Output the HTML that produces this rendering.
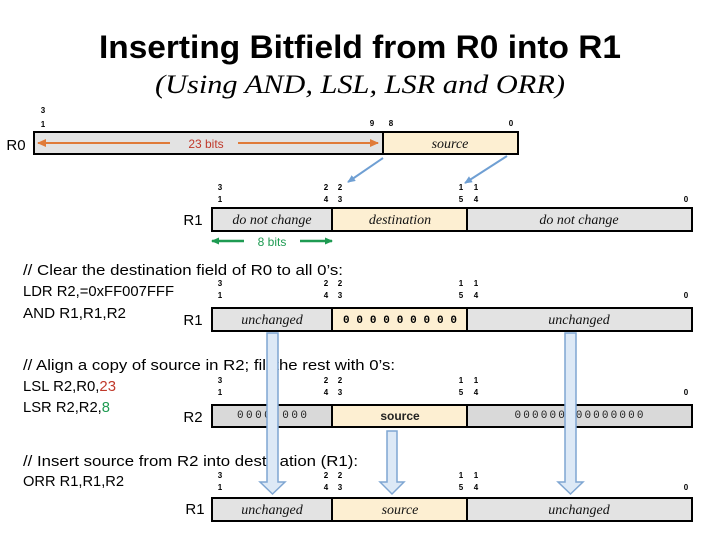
<!DOCTYPE html>
<html><head><meta charset="utf-8"><style>
html,body{margin:0;padding:0;background:#fff;width:720px;height:540px;overflow:hidden}
svg{display:block}
.b{font-family:"Liberation Sans",sans-serif;font-size:8px;font-weight:bold;fill:#000;text-anchor:middle}
.i{font-family:"Liberation Serif",serif;font-style:italic;font-size:14px;fill:#111;text-anchor:middle}
.c{font-family:"Liberation Sans",sans-serif;font-size:15px;fill:#000}
.r{font-family:"Liberation Sans",sans-serif;font-size:15px;fill:#000;text-anchor:middle}
.g{fill:#e3e3e3;stroke:#000;stroke-width:2}
.y{fill:#fdefd2;stroke:#000;stroke-width:2}
.g2{fill:#d9d9d9;stroke:#000;stroke-width:2}
.z{font-family:"Liberation Mono",monospace;font-size:11px;fill:#222;text-anchor:middle}
.ha{fill:#dde9f6;stroke:#7fa6d2;stroke-width:1.5}
</style></head><body>
<svg width="720" height="540" viewBox="0 0 720 540" xmlns="http://www.w3.org/2000/svg">
<defs>
<marker id="ob" markerUnits="userSpaceOnUse" markerWidth="9" markerHeight="8" refX="8" refY="4" orient="auto"><path d="M0,0 L9,4 L0,8 z" fill="#e07b39"/></marker>
<marker id="gb" markerUnits="userSpaceOnUse" markerWidth="8" markerHeight="7" refX="7" refY="3.5" orient="auto"><path d="M0,0 L8,3.5 L0,7 z" fill="#1e9b52"/></marker>
<marker id="bb" markerUnits="userSpaceOnUse" markerWidth="8" markerHeight="7" refX="7" refY="3.5" orient="auto"><path d="M0,0 L8,3.5 L0,7 z" fill="#6f9fd3"/></marker>
</defs>
<text x="360" y="58" text-anchor="middle" font-family="Liberation Sans,sans-serif" font-weight="bold" font-size="32" textLength="522" lengthAdjust="spacingAndGlyphs">Inserting Bitfield from R0 into R1</text>
<text x="360" y="93" text-anchor="middle" font-family="Liberation Serif,serif" font-style="italic" font-size="26" textLength="410" lengthAdjust="spacingAndGlyphs">(Using AND, LSL, LSR and ORR)</text>

<!-- R0 -->
<text class="b" x="43" y="113">3</text><text class="b" x="43" y="127">1</text>
<text class="b" x="372" y="126">9</text><text class="b" x="391" y="126">8</text><text class="b" x="511" y="126">0</text>
<text x="16" y="150" class="r">R0</text>
<rect class="g" x="34" y="132" width="349" height="22"/>
<rect class="y" x="383" y="132" width="135" height="22"/>
<line x1="170" y1="143" x2="38" y2="143" stroke="#e07b39" stroke-width="2" marker-end="url(#ob)"/>
<line x1="238" y1="143" x2="378" y2="143" stroke="#e07b39" stroke-width="2" marker-end="url(#ob)"/>
<text x="206" y="148" text-anchor="middle" font-family="Liberation Sans,sans-serif" font-size="12" fill="#c0392b">23 bits</text>
<text class="i" x="450" y="148">source</text>
<line x1="383" y1="158" x2="348" y2="182" stroke="#6f9fd3" stroke-width="2" marker-end="url(#bb)"/>
<line x1="507" y1="156" x2="465" y2="183" stroke="#6f9fd3" stroke-width="2" marker-end="url(#bb)"/>

<g>
<text class="b" x="220" y="190">3</text><text class="b" x="220" y="202">1</text>
<text class="b" x="326" y="190">2</text><text class="b" x="340" y="190">2</text>
<text class="b" x="326" y="202">4</text><text class="b" x="340" y="202">3</text>
<text class="b" x="461" y="190">1</text><text class="b" x="476" y="190">1</text>
<text class="b" x="461" y="202">5</text><text class="b" x="476" y="202">4</text>
<text class="b" x="686" y="202">0</text>
</g>
<text x="193" y="225" class="r">R1</text>
<rect class="g" x="212" y="208" width="120" height="23"/>
<rect class="y" x="332" y="208" width="135" height="23"/>
<rect class="g" x="467" y="208" width="225" height="23"/>
<text class="i" x="272" y="224">do not change</text>
<text class="i" x="400" y="224">destination</text>
<text class="i" x="579" y="224">do not change</text>
<line x1="244" y1="241" x2="212" y2="241" stroke="#1e9b52" stroke-width="2.5" marker-end="url(#gb)"/>
<line x1="300" y1="241" x2="332" y2="241" stroke="#1e9b52" stroke-width="2.5" marker-end="url(#gb)"/>
<text x="272" y="246" text-anchor="middle" font-family="Liberation Sans,sans-serif" font-size="12" fill="#1e9b52">8 bits</text>

<!-- section 1 -->
<text class="c" x="23" y="275" textLength="320" lengthAdjust="spacingAndGlyphs">// Clear the destination field of R0 to all 0’s:</text>
<text class="c" x="23" y="296" textLength="151" lengthAdjust="spacingAndGlyphs">LDR R2,=0xFF007FFF</text>
<text class="c" x="23" y="318" textLength="103" lengthAdjust="spacingAndGlyphs">AND R1,R1,R2</text>
<g transform="translate(0,96)">
<text class="b" x="220" y="190">3</text><text class="b" x="220" y="202">1</text>
<text class="b" x="326" y="190">2</text><text class="b" x="340" y="190">2</text>
<text class="b" x="326" y="202">4</text><text class="b" x="340" y="202">3</text>
<text class="b" x="461" y="190">1</text><text class="b" x="476" y="190">1</text>
<text class="b" x="461" y="202">5</text><text class="b" x="476" y="202">4</text>
<text class="b" x="686" y="202">0</text>
</g>
<text x="193" y="325" class="r">R1</text>
<rect class="g" x="212" y="308" width="120" height="23"/>
<rect class="y" x="332" y="308" width="135" height="23"/>
<rect class="g" x="467" y="308" width="225" height="23"/>
<text class="i" x="272" y="324">unchanged</text>
<text x="400" y="323" text-anchor="middle" font-family="Liberation Mono,monospace" font-weight="bold" font-size="11" textLength="114" lengthAdjust="spacing">0 0 0 0 0 0 0 0 0</text>
<text class="i" x="579" y="324">unchanged</text>

<!-- section 2 -->
<text class="c" x="23" y="370" textLength="372" lengthAdjust="spacingAndGlyphs">// Align a copy of source in R2; fill the rest with 0’s:</text>
<text class="c" x="23" y="391" textLength="93" lengthAdjust="spacingAndGlyphs">LSL R2,R0,<tspan fill="#c0392b">23</tspan></text>
<text class="c" x="23" y="412" textLength="87" lengthAdjust="spacingAndGlyphs">LSR R2,R2,<tspan fill="#1e9b52">8</tspan></text>
<g transform="translate(0,193)">
<text class="b" x="220" y="190" font-weight="normal">3</text><text class="b" x="220" y="202" font-weight="normal">1</text>
<text class="b" x="326" y="190" font-weight="normal">2</text><text class="b" x="340" y="190" font-weight="normal">2</text>
<text class="b" x="326" y="202" font-weight="normal">4</text><text class="b" x="340" y="202" font-weight="normal">3</text>
<text class="b" x="461" y="190" font-weight="normal">1</text><text class="b" x="476" y="190" font-weight="normal">1</text>
<text class="b" x="461" y="202" font-weight="normal">5</text><text class="b" x="476" y="202" font-weight="normal">4</text>
<text class="b" x="686" y="202" font-weight="normal">0</text>
</g>
<text x="193" y="422" class="r">R2</text>
<rect class="g2" x="212" y="405" width="120" height="22"/>
<rect class="y" x="332" y="405" width="135" height="22"/>
<rect class="g2" x="467" y="405" width="225" height="22"/>
<text class="z" x="272" y="418" textLength="70" lengthAdjust="spacing">0000 000</text>
<text x="400" y="420" text-anchor="middle" font-family="Liberation Sans,sans-serif" font-weight="bold" font-size="12" fill="#222">source</text>
<text class="z" x="579" y="418" textLength="129" lengthAdjust="spacing">000000 00000000</text>

<!-- section 3 -->
<text class="c" x="23" y="466" textLength="335" lengthAdjust="spacingAndGlyphs">// Insert source from R2 into destination (R1):</text>
<text class="c" x="23" y="486" textLength="101" lengthAdjust="spacingAndGlyphs">ORR R1,R1,R2</text>
<g transform="translate(0,288)">
<text class="b" x="220" y="190">3</text><text class="b" x="220" y="202">1</text>
<text class="b" x="326" y="190">2</text><text class="b" x="340" y="190">2</text>
<text class="b" x="326" y="202">4</text><text class="b" x="340" y="202">3</text>
<text class="b" x="461" y="190">1</text><text class="b" x="476" y="190">1</text>
<text class="b" x="461" y="202">5</text><text class="b" x="476" y="202">4</text>
<text class="b" x="686" y="202">0</text>
</g>
<text x="195" y="514" class="r">R1</text>
<rect class="g" x="212" y="498" width="120" height="23"/>
<rect class="y" x="332" y="498" width="135" height="23"/>
<rect class="g" x="467" y="498" width="225" height="23"/>
<text class="i" x="272" y="514">unchanged</text>
<text class="i" x="400" y="514">source</text>
<text class="i" x="579" y="514">unchanged</text>

<!-- hollow arrows -->
<path class="ha" d="M267,333 L278,333 L278,482 L285,482 L272.5,494 L260,482 L267,482 Z"/>
<path class="ha" d="M565,333 L576,333 L576,482 L583,482 L570.5,494 L558,482 L565,482 Z"/>
<path class="ha" d="M387,431 L397,431 L397,482 L404,482 L392,494 L380,482 L387,482 Z"/>
</svg>
</body></html>
